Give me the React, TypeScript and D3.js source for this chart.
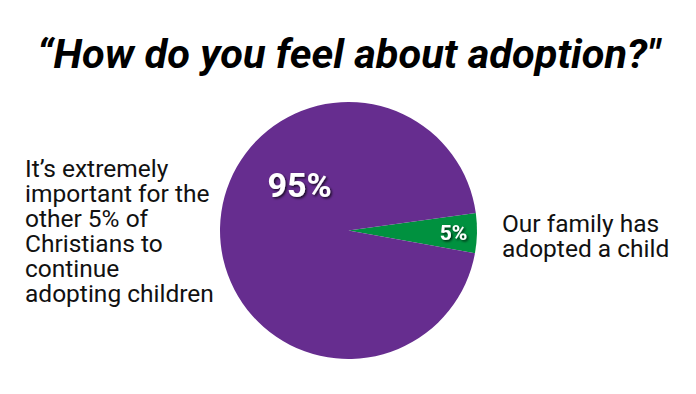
import React from "react";
import * as d3 from "d3";

// slices (green first so it sits on the right edge)
const categories = ["Our family has adopted a child", "It's extremely important for the other 5% of Christians to continue adopting children"];
const values = [5, 95];
const sliceLabels = ["5%", "95%"];
const colors = ["#00913f", "#662d8f"];

const title = "\u201CHow do you feel about adoption?\"";
const leftLines = ["It\u2019s extremely", "important for the", "other 5% of", "Christians to", "continue", "adopting children"];
const rightLines = ["Our family has", "adopted a child"];

export default function App() {
  const width = 696, height = 394;
  const cx = 348.5, cy = 230.5, r = 128.5;

  const start = (82.2 * Math.PI) / 180;
  const pie = d3.pie<number>().sort(null).startAngle(start).endAngle(start + 2 * Math.PI);
  const arcs = pie(values);
  const arc = d3.arc<d3.PieArcDatum<number>>().innerRadius(0).outerRadius(r);

  // label points: small slice on its centroid, big one up-left
  const greenLabel = d3.arc<d3.PieArcDatum<number>>().innerRadius(105).outerRadius(105).centroid(arcs[0]);
  const bigAng = (313 * Math.PI) / 180;
  const bigLabel = [67 * Math.sin(bigAng), -67 * Math.cos(bigAng)];

  return (
    <svg width={width} height={height} style={{ position: "absolute", left: 0, top: 0, background: "#fff" }}>
      <defs>
        <filter id="shadow" x="-20%" y="-20%" width="140%" height="140%">
          <feDropShadow dx="1.5" dy="1.5" stdDeviation="1" floodColor="#000" floodOpacity="0.75" />
        </filter>
      </defs>
      <text
        x={348.5}
        y={68}
        textAnchor="middle"
        fontFamily="Roboto"
        fontWeight="bold"
        fontStyle="italic"
        fontSize={40}
        textLength={623}
        lengthAdjust="spacingAndGlyphs"
        fill="#000"
      >
        {title}
      </text>
      <g transform={`translate(${cx},${cy})`}>
        {arcs.map((a, i) => (
          <path key={categories[i]} d={arc(a) || ""} fill={colors[i]} />
        ))}
        <text
          x={greenLabel[0]}
          y={greenLabel[1] + 7.5}
          textAnchor="middle"
          fontFamily="Roboto"
          fontWeight="bold"
          fontSize={21}
          fill="#fff"
          filter="url(#shadow)"
        >
          {sliceLabels[0]}
        </text>
        <text
          x={bigLabel[0]}
          y={bigLabel[1] + 12}
          textAnchor="middle"
          fontFamily="Roboto"
          fontWeight="bold"
          fontSize={34}
          fill="#fff"
          filter="url(#shadow)"
        >
          {sliceLabels[1]}
        </text>
      </g>
      <g fontFamily="Roboto" fontSize={24.5} fill="#111">
        {leftLines.map((t, i) => (
          <text key={t} x={25} y={176.5 + i * 25}>{t}</text>
        ))}
        {rightLines.map((t, i) => (
          <text key={t} x={502} y={232.3 + i * 25}>{t}</text>
        ))}
      </g>
    </svg>
  );
}
